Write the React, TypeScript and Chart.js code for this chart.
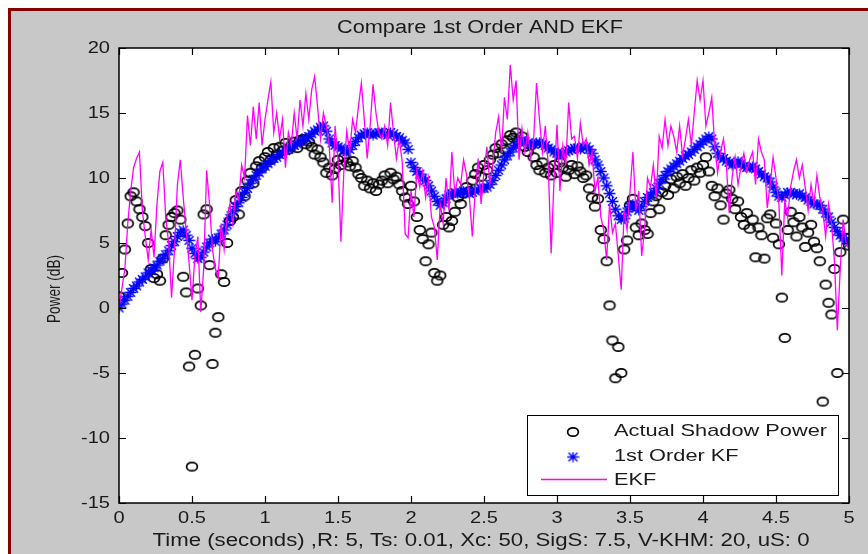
import React, { useEffect, useRef } from "react";
import { Chart, registerables } from "chart.js";

Chart.register(...registerables);

const TIME_STEP = 0.02;

const ACTUAL_POWER = [
  0.9, 2.7, 4.5, 6.5, 8.6, 8.9, 8.2, 7.6, 7.0, 6.3,
  5.0, 3.0, 2.3, 2.6, 2.1, 3.8, 5.6, 6.4, 7.0, 7.3,
  7.5, 6.8, 2.4, 1.2, -4.5, -12.2, -3.6, 1.5, 0.2, 7.2,
  7.6, 3.3, -4.3, -1.9, -0.7, 2.6, 2.0, 5.0, 6.7, 7.0,
  8.3, 7.2, 9.0, 8.6, 9.8, 10.4, 9.6, 10.9, 11.3, 10.8,
  11.6, 12.0, 11.4, 12.3, 11.8, 12.4, 12.1, 12.7, 12.2, 12.5,
  12.8, 12.3, 12.9, 13.0, 12.6, 12.8, 12.4, 11.8, 12.2, 11.6,
  11.2, 10.4, 10.8, 10.2, 10.7, 11.4, 11.0, 11.6, 11.2, 10.9,
  11.3, 10.8, 10.3, 10.0, 9.4, 9.8, 9.2, 9.6, 9.0, 9.5,
  9.8, 10.2, 9.6, 10.4, 9.9, 10.1, 9.5, 9.0, 8.5, 8.0,
  9.4, 8.2, 7.0, 6.0, 5.3, 3.6, 4.9, 5.8, 2.7, 2.1,
  2.5, 6.4, 7.0, 6.2, 6.7, 7.4, 8.5, 8.0, 8.8, 9.3,
  9.0, 9.8, 10.3, 10.8, 10.1, 11.0, 10.6, 11.4, 11.8, 12.3,
  11.9, 12.6, 12.2, 12.9, 13.3, 13.1, 13.5, 12.8, 13.2, 12.4,
  12.0, 12.5, 11.6, 11.0, 10.6, 11.2, 10.4, 10.8, 10.2, 11.0,
  10.4, 11.2, 10.8, 10.1, 10.6, 11.0, 10.3, 10.9, 10.5, 10.0,
  10.2, 9.2, 8.5, 7.8, 8.4, 6.0, 5.3, 3.6, 0.2, -2.5,
  -5.4, -3.0, -5.0, 4.5, 5.2, 7.9, 8.4, 6.2, 5.6, 6.5,
  6.0, 5.7, 7.3, 8.2, 8.6, 7.6, 8.9, 9.4, 8.7, 9.9,
  9.2, 10.1, 9.6, 10.3, 9.4, 10.0, 10.6, 9.8, 10.8, 10.4,
  11.0, 11.6, 10.5, 9.4, 8.6, 9.2, 7.9, 6.8, 8.8, 9.1,
  8.4, 7.6, 8.2, 7.0, 6.4, 7.3, 6.1, 6.8, 3.9, 6.2,
  5.6, 3.8, 6.9, 7.2, 5.4, 6.5, 4.9, 0.8, -2.3, 6.0,
  7.4, 6.6, 5.5, 7.0, 6.2, 4.7, 5.8, 6.4, 5.1, 4.6,
  3.6, -7.2, 1.8, 0.4, -0.5, 3.0, -5.0, 4.3, 6.8, 5.4,
  4.8,
];

const KF_POWER = [
  0.0, 0.3, 0.6, 0.9, 1.2, 1.5, 1.7, 2.0, 2.2, 2.4,
  2.7, 2.9, 3.1, 3.3, 3.6, 3.8, 4.1, 4.4, 4.8, 5.1,
  5.5, 5.8, 6.0, 5.6, 5.2, 4.6, 4.2, 3.8, 3.9, 4.3,
  4.7, 5.0, 5.3, 5.1, 5.4, 5.7, 6.0, 6.4, 6.9, 7.4,
  7.8, 8.1, 8.5, 8.9, 9.2, 9.6, 9.9, 10.2, 10.4, 10.7,
  10.9, 11.1, 11.3, 11.5, 11.6, 11.8, 11.9, 12.1, 12.2, 12.4,
  12.5, 12.6, 12.8, 12.9, 13.1, 13.2, 13.4, 13.6, 13.7, 13.9,
  14.0, 13.6, 13.0, 12.7, 12.5, 12.4, 12.3, 12.1, 12.0, 12.2,
  12.5, 12.8, 13.1, 13.3, 13.4, 13.5, 13.4, 13.3, 13.4, 13.5,
  13.5, 13.4, 13.3, 13.5, 13.4, 13.2, 13.1, 12.9, 12.7, 12.2,
  11.2, 10.8, 10.5, 10.3, 10.0, 9.8, 9.4, 9.0, 8.6, 8.2,
  7.9, 8.1, 8.4, 8.7, 8.8, 8.9, 8.8, 8.9, 9.0, 8.9,
  8.8, 8.9, 9.0, 9.1, 9.2, 9.2, 9.3, 9.5, 9.8, 10.2,
  10.6, 11.0, 11.4, 11.7, 12.0, 12.3, 12.5, 12.8, 12.9, 12.8,
  12.7, 12.6, 12.6, 12.7, 12.7, 12.6, 12.5, 12.3, 12.2, 12.0,
  11.9, 11.8, 11.9, 12.0, 12.1, 12.2, 12.3, 12.3, 12.2, 12.4,
  12.4, 12.2, 11.9, 11.4, 11.0, 10.5, 10.0, 9.4, 8.8, 8.2,
  7.6, 7.1, 6.8, 6.9, 7.4, 7.8, 8.0, 7.7, 7.5, 7.8,
  8.2, 8.5, 8.7, 8.9, 9.2, 9.6, 9.9, 10.2, 10.5, 10.7,
  10.9, 11.1, 11.3, 11.5, 11.7, 11.8, 12.0, 12.2, 12.4, 12.6,
  12.8, 13.0, 13.2, 13.0, 12.4, 11.9, 11.6, 11.5, 11.3, 11.2,
  11.0, 11.1, 11.3, 11.1, 10.9, 10.8, 10.8, 10.9, 10.7, 10.5,
  10.3, 10.1, 10.0, 9.7, 9.3, 8.9, 8.6, 8.5, 8.7, 8.9,
  8.9, 8.8, 8.7, 8.8, 8.6, 8.5, 8.3, 8.2, 8.0, 8.0,
  7.9, 7.6, 7.3, 7.0, 6.6, 6.2, 5.9, 5.6, 5.4, 5.2,
  5.0,
];

const EKF_POWER = [
  0.0, 1.5, 3.0, 6.5, 9.0, 10.8, 11.5, 12.0, 7.5, 5.5,
  3.7, 6.0, 3.9, 8.0, 10.5, 11.2, 7.0, 5.0, 0.8, 4.5,
  9.5, 11.4, 8.5, 6.0, 3.5, 0.6, 4.0, 5.5, -0.3, 3.0,
  10.6, 8.0, 4.5, 3.0, 2.4, 6.5, 4.5, 7.0, 8.0, 6.5,
  9.0, 8.3, 11.0, 10.0, 14.8, 12.5, 15.5, 13.0, 15.8, 12.5,
  14.5, 16.0, 17.4, 13.5, 15.0, 13.0, 14.5, 10.8, 13.5, 12.5,
  15.0, 13.0, 16.0, 14.0, 16.5, 14.5, 16.8, 17.8, 15.5, 13.0,
  15.0, 14.0, 12.5, 8.1, 14.0, 11.5, 5.1, 10.5, 13.6, 12.0,
  14.5, 13.5, 15.5, 17.3, 14.5, 11.5, 14.0, 17.2, 15.0, 13.5,
  13.0, 14.0, 12.5, 15.8, 13.5, 11.5, 13.0, 11.2, 5.7, 5.4,
  9.0, 7.0, 10.6, 9.3, 10.5, 8.5, 10.0, 7.0, 6.2, 3.7,
  8.0, 6.5, 10.0, 7.5, 12.0, 8.8, 10.0, 9.5, 11.4, 10.3,
  8.5, 5.5, 9.0, 11.5, 8.0, 10.5, 12.4, 9.5, 11.0, 13.5,
  14.7, 12.0, 16.2, 14.5, 18.7, 16.0, 17.5, 11.4, 13.8, 12.0,
  13.5, 11.5, 13.0, 17.3, 14.5, 12.0, 14.0, 11.0, 4.2, 10.0,
  14.1, 9.0, 12.5, 11.0, 15.8, 13.0, 13.2, 11.5, 14.2, 12.5,
  13.0, 11.0, 12.0, 9.0, 10.0, 7.0, 6.0, 3.7, 8.0, 5.8,
  6.5, 4.0, 1.4, 7.5, 6.0, 9.0, 12.0, 7.5, 9.0, 4.0,
  6.0, 10.0, 9.3, 11.0, 8.5, 13.2, 12.3, 14.5, 12.5, 14.0,
  13.2, 12.0, 14.0, 11.7, 13.0, 14.5, 12.5, 15.0, 17.5, 16.0,
  17.5, 14.0, 15.0, 16.2, 12.5, 10.4, 12.0, 13.0, 11.0, 7.3,
  10.1, 11.6, 9.5, 10.8, 11.9, 10.5, 11.4, 12.0, 9.5, 13.0,
  12.0, 11.4, 7.7, 9.5, 11.6, 10.0, 8.0, 2.5, 8.3, 7.0,
  9.3, 10.5, 11.4, 10.0, 11.0, 9.3, 7.5, 9.5, 8.0, 10.2,
  8.5, 7.5, 5.5, 8.0, 6.5, 3.7, -1.7, 3.0, 6.8, 5.0,
  4.5,
];

const X_TICKS = [0, 0.5, 1, 1.5, 2, 2.5, 3, 3.5, 4, 4.5, 5];
const X_TICK_LABELS = ["0", "0.5", "1", "1.5", "2", "2.5", "3", "3.5", "4", "4.5", "5"];
const Y_TICKS = [-15, -10, -5, 0, 5, 10, 15, 20];
const Y_TICK_LABELS = ["-15", "-10", "-5", "0", "5", "10", "15", "20"];

const TITLE = "Compare 1st Order AND EKF";
const X_LABEL = "Time (seconds) ,R: 5, Ts: 0.01, Xc: 50, SigS: 7.5, V-KHM: 20, uS: 0";
const Y_LABEL = "Power (dB)";
const LEGEND_LABELS = ["Actual Shadow Power", "1st Order KF", "EKF"];

const FONT = '"Liberation Sans", Arial, sans-serif';
const TEXT_COLOR = "#1a1a1a";

function makeCircleImage(): HTMLCanvasElement {
  const c = document.createElement("canvas");
  c.width = 14;
  c.height = 12;
  const g = c.getContext("2d")!;
  g.strokeStyle = "#000000";
  g.lineWidth = 1.7;
  g.beginPath();
  g.ellipse(7, 6, 5.4, 4.2, 0, 0, Math.PI * 2);
  g.stroke();
  return c;
}

function makeStarImage(): HTMLCanvasElement {
  const c = document.createElement("canvas");
  c.width = 13;
  c.height = 11;
  const g = c.getContext("2d")!;
  g.strokeStyle = "#0000FF";
  g.lineWidth = 1.4;
  g.beginPath();
  g.moveTo(0.5, 5.5);
  g.lineTo(12.5, 5.5);
  g.moveTo(6.5, 0.5);
  g.lineTo(6.5, 10.5);
  g.moveTo(2, 1.2);
  g.lineTo(11, 9.8);
  g.moveTo(11, 1.2);
  g.lineTo(2, 9.8);
  g.stroke();
  return c;
}

function drawStretched(
  ctx: CanvasRenderingContext2D,
  text: string,
  x: number,
  y: number,
  size: number,
  align: CanvasTextAlign,
  sx: number
) {
  ctx.save();
  ctx.translate(x, y);
  ctx.scale(sx, 1);
  ctx.font = `${size}px ${FONT}`;
  ctx.textAlign = align;
  ctx.textBaseline = "middle";
  ctx.fillStyle = TEXT_COLOR;
  ctx.fillText(text, 0, 0);
  ctx.restore();
}

function fitScale(ctx: CanvasRenderingContext2D, text: string, size: number, target: number) {
  ctx.save();
  ctx.font = `${size}px ${FONT}`;
  const w = ctx.measureText(text).width;
  ctx.restore();
  return w > 0 ? target / w : 1;
}

export default function App() {
  const ref = useRef<HTMLCanvasElement | null>(null);

  useEffect(() => {
    const canvas = ref.current;
    if (!canvas) return;
    const circleImg = makeCircleImage();
    const starImg = makeStarImage();

    const toPoints = (arr: number[]) => arr.map((v, i) => ({ x: i * TIME_STEP, y: v }));

    const framePlugin = {
      id: "frame",
      beforeDraw(chart: any) {
        const ctx = chart.ctx as CanvasRenderingContext2D;
        const { left, top, right, bottom } = chart.chartArea;
        ctx.save();
        ctx.fillStyle = "#ffffff";
        ctx.fillRect(0, 0, 868, 554);
        ctx.fillStyle = "#c8c8c8";
        ctx.fillRect(8, 8, 860, 546);
        ctx.fillStyle = "#850000";
        ctx.fillRect(8, 8, 860, 3);
        ctx.fillRect(8, 8, 3, 546);
        ctx.fillStyle = "#ffffff";
        ctx.fillRect(left, top, right - left, bottom - top);
        ctx.restore();
      },
      afterDraw(chart: any) {
        const ctx = chart.ctx as CanvasRenderingContext2D;
        const { left, top, right, bottom } = chart.chartArea;
        const xs = chart.scales.x;
        const ys = chart.scales.y;
        ctx.save();
        ctx.strokeStyle = "#000000";
        ctx.lineWidth = 1.5;
        ctx.strokeRect(left, top, right - left, bottom - top);
        ctx.lineWidth = 1.2;
        ctx.beginPath();
        const TL = 7;
        X_TICKS.forEach((t) => {
          const px = Math.round(xs.getPixelForValue(t)) + 0.5;
          ctx.moveTo(px, bottom);
          ctx.lineTo(px, bottom - TL);
          ctx.moveTo(px, top);
          ctx.lineTo(px, top + TL);
        });
        Y_TICKS.forEach((t) => {
          const py = Math.round(ys.getPixelForValue(t)) + 0.5;
          ctx.moveTo(left, py);
          ctx.lineTo(left + TL, py);
          ctx.moveTo(right, py);
          ctx.lineTo(right - TL, py);
        });
        ctx.stroke();
        X_TICKS.forEach((t, i) => {
          drawStretched(ctx, X_TICK_LABELS[i], xs.getPixelForValue(t), bottom + 15, 17, "center", 1.18);
        });
        Y_TICKS.forEach((t, i) => {
          drawStretched(ctx, Y_TICK_LABELS[i], left - 9, ys.getPixelForValue(t), 17, "right", 1.18);
        });
        const tsx = fitScale(ctx, TITLE, 18, 286);
        drawStretched(ctx, TITLE, 480, 28, 18, "center", tsx);
        const xsx = fitScale(ctx, X_LABEL, 18, 657);
        drawStretched(ctx, X_LABEL, 481, 541, 18, "center", xsx);
        ctx.save();
        ctx.translate(55, 289);
        ctx.rotate(-Math.PI / 2);
        const ysx = fitScale(ctx, Y_LABEL, 15, 68);
        ctx.scale(ysx, 1.2);
        ctx.font = `15px ${FONT}`;
        ctx.textAlign = "center";
        ctx.textBaseline = "middle";
        ctx.fillStyle = TEXT_COLOR;
        ctx.fillText(Y_LABEL, 0, 0);
        ctx.restore();
        const lx = 527.5, ly = 415.5, lw = 311, lh = 80;
        ctx.fillStyle = "#ffffff";
        ctx.fillRect(lx, ly, lw, lh);
        ctx.strokeStyle = "#000000";
        ctx.lineWidth = 1;
        ctx.strokeRect(lx, ly, lw, lh);
        const rows = [431, 456.5, 480];
        ctx.drawImage(circleImg, 573 - circleImg.width / 2, rows[0] + 1 - circleImg.height / 2);
        ctx.drawImage(starImg, 573 - starImg.width / 2, rows[1] + 0.5 - starImg.height / 2);
        ctx.strokeStyle = "#FF00FF";
        ctx.lineWidth = 1.3;
        ctx.beginPath();
        ctx.moveTo(541, rows[2] - 0.5);
        ctx.lineTo(607, rows[2] - 0.5);
        ctx.stroke();
        const lsx = fitScale(ctx, LEGEND_LABELS[0], 17, 213);
        LEGEND_LABELS.forEach((lab, i) => {
          drawStretched(ctx, lab, 614, rows[i], 17, "left", lsx);
        });
        ctx.restore();
      },
    };

    const chart = new Chart(canvas, {
      type: "scatter",
      data: {
        datasets: [
          {
            label: LEGEND_LABELS[0],
            data: toPoints(ACTUAL_POWER),
            pointStyle: circleImg as any,
            pointRadius: 5,
            borderColor: "#000000",
            backgroundColor: "#000000",
            order: 3,
          },
          {
            label: LEGEND_LABELS[1],
            data: toPoints(KF_POWER),
            pointStyle: starImg as any,
            pointRadius: 5,
            borderColor: "#0000FF",
            backgroundColor: "#0000FF",
            order: 2,
          },
          {
            label: LEGEND_LABELS[2],
            data: toPoints(EKF_POWER),
            showLine: true,
            pointRadius: 0,
            borderColor: "#FF00FF",
            backgroundColor: "#FF00FF",
            borderWidth: 1.3,
            order: 1,
          },
        ],
      },
      options: {
        animation: false,
        responsive: false,
        devicePixelRatio: 1,
        events: [],
        layout: { padding: { left: 119, top: 48, right: 19, bottom: 51 } },
        plugins: {
          legend: { display: false },
          title: { display: false },
          tooltip: { enabled: false },
        },
        scales: {
          x: { type: "linear", min: 0, max: 5, display: false },
          y: { type: "linear", min: -15, max: 20, display: false },
        },
      },
      plugins: [framePlugin],
    });

    return () => {
      chart.destroy();
    };
  }, []);

  return (
    <div style={{ position: "fixed", left: 0, top: 0, width: 868, height: 554 }}>
      <canvas ref={ref} width={868} height={554} style={{ display: "block" }} />
    </div>
  );
}
